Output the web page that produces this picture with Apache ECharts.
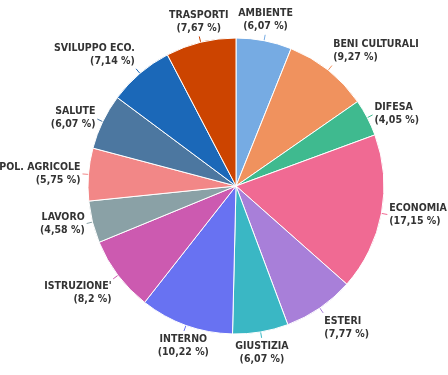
<!DOCTYPE html>
<html style="height:100%;">
<head>
    <meta charset="utf-8">
    <title>Spesa per ministero</title>
    <script src="https://cdn.jsdelivr.net/npm/echarts@6/dist/echarts.min.js"></script>
</head>
<body style="height: 100%; margin: 0;">
    <div id="main" style="width: 448px; height: 375px;"></div>
    <script type="text/javascript">
    // settori, in senso orario dalle ore 12
    var categorie = ['AMBIENTE', 'BENI CULTURALI', 'DIFESA', 'ECONOMIA', 'ESTERI', 'GIUSTIZIA',
        'INTERNO', "ISTRUZIONE'", 'LAVORO', 'POL. AGRICOLE', 'SALUTE', 'SVILUPPO ECO.', 'TRASPORTI'];
    var valori = [6.07, 9.27, 4.05, 17.15, 7.77, 6.07, 10.22, 8.2, 4.58, 5.75, 6.07, 7.14, 7.67];
    var colori = ['#76abe3', '#f0925e', '#3fba8f', '#f06a93', '#a87fd9', '#3ab7c4', '#6872f2',
        '#cc5ab0', '#8aa1a6', '#f28787', '#4c77a0', '#1b68b8', '#cc4400'];

    var myChart = echarts.init(document.getElementById('main'));

    // etichetta posta all'estremità della linea, allineata secondo la direzione
    function posizionaEtichetta(params) {
        var pts = params.labelLinePoints;
        if (!pts) return {};
        var dx = pts[1][0] - pts[0][0], dy = pts[1][1] - pts[0][1];
        var len = Math.sqrt(dx * dx + dy * dy) || 1;
        var ux = dx / len, uy = dy / len;
        var end = pts[pts.length - 1];
        return {
            x: end[0] + ux * 2,
            y: end[1] + uy * 2,
            align: ux > 0.4 ? 'left' : (ux < -0.4 ? 'right' : 'center'),
            verticalAlign: uy > 0.5 ? 'top' : (uy < -0.5 ? 'bottom' : 'middle'),
            labelLinePoints: pts
        };
    }

    myChart.setOption({
        animation: false,
        series: [{
            type: 'pie',
            center: [236, 186],
            radius: 148,
            startAngle: 90,
            clockwise: true,
            avoidLabelOverlap: false,
            itemStyle: {
                borderColor: '#fff',
                borderWidth: 1
            },
            label: {
                show: true,
                position: 'outside',
                fontFamily: '"DejaVu Sans Condensed", sans-serif',
                fontWeight: 'bold',
                fontSize: 10.5,
                lineHeight: 13,
                color: '#333',
                formatter: function (p) {
                    return p.name + '\n(' + String(p.value).replace('.', ',') + ' %)';
                }
            },
            labelLine: {
                show: true,
                length: 6,
                length2: 0,
                lineStyle: { width: 1 }
            },
            labelLayout: posizionaEtichetta,
            data: categorie.map(function (c, i) {
                return { name: c, value: valori[i], itemStyle: { color: colori[i] } };
            })
        }]
    });
    </script>
</body>
</html>
